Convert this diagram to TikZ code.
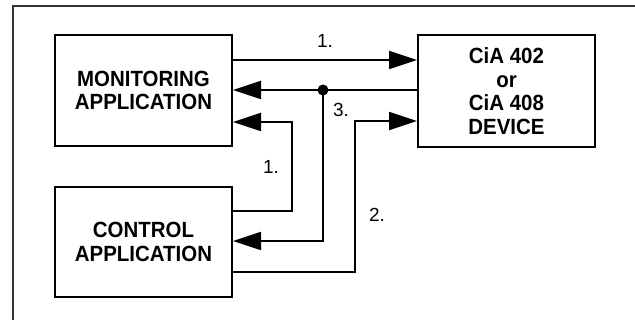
\documentclass[tikz,border=0pt]{standalone}
\usepackage{fontspec}
\setmainfont{Liberation Sans}
\newfontfamily\boxfont[FakeStretch=0.93]{Liberation Sans}
\usetikzlibrary{arrows.meta}
\begin{document}
\begin{tikzpicture}[x=1pt,y=-1pt,
  box/.style={draw=black,line width=2pt,minimum width=177pt,inner sep=0pt,align=center,
    font=\boxfont\bfseries\fontsize{22}{23.5}\selectfont},
  conn/.style={line width=1.8pt},
  arr/.style={conn,-{Triangle[length=28pt,width=18pt]}},
  lbl/.style={font=\fontsize{19}{22}\selectfont,inner sep=0pt}]
\useasboundingbox (0,0) rectangle (635,320);
\fill[white] (0,0) rectangle (635,320);
\draw[line width=1.2pt,black!80] (13,320) -- (13,6) -- (635,6);
\node[box,minimum height=111pt] (mon) at (143.5,90.5) {MONITORING\\APPLICATION};
\node[box,minimum height=110pt] (ctl) at (143.5,242) {CONTROL\\APPLICATION};
\node[box,minimum height=112pt] (dev) at (506.5,91) {CiA 402\\or\\CiA 408\\DEVICE};
\coordinate (y1) at (0,60);
\coordinate (y3) at (0,90);
\coordinate (dot) at (323,90);
\coordinate (d3) at (323,241);
\coordinate (u1) at (292,211);
\coordinate (v1) at (292,122);
\coordinate (u2) at (355,272);
\coordinate (v2) at (355,121);
\draw[arr] (mon.east |- y1) -- (dev.west |- y1);
\draw[arr] (dev.west |- y3) -- (mon.east |- y3);
\draw[arr] (dot) -- (d3) -- (ctl.east |- d3);
\fill (dot) circle (5.5pt);
\draw[arr] (ctl.east |- u1) -- (u1) -- (v1) -- (mon.east |- v1);
\draw[arr] (ctl.east |- u2) -- (u2) -- (v2) -- (dev.west |- v2);
\node[lbl] (l1a) at (325,41) {1.};
\node[lbl] (l1b) at (271,167) {1.};
\node[lbl] (l2) at (377,215) {2.};
\node[lbl] (l3) at (341,110) {3.};
\end{tikzpicture}
\end{document}
